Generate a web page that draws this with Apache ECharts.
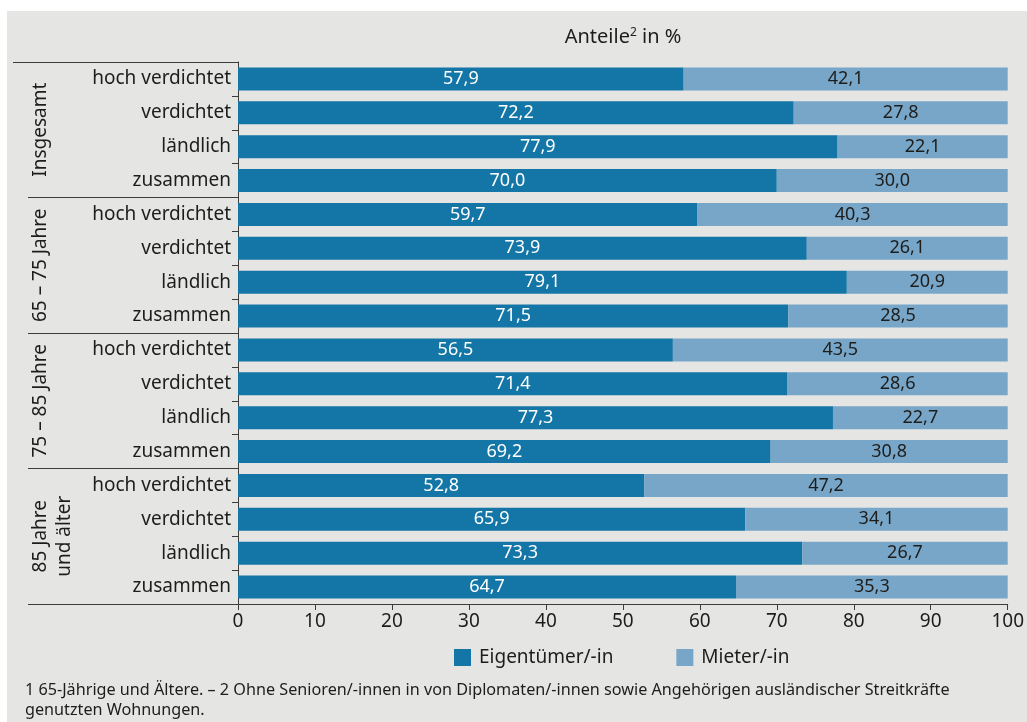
<!DOCTYPE html>
<html>
<head>
<meta charset="utf-8">
<script src="https://cdn.jsdelivr.net/npm/echarts@6/dist/echarts.min.js"></script>
<style>
  body { margin:0; background:#ffffff; }
  #main { position:absolute; left:7px; top:11px; width:1020px; height:711px; background:#e5e5e4; }
</style>
</head>
<body>
<div id="main"></div>
<script>
// Gruppen und Raumtypen
const groups = ['Insgesamt', '65 – 75 Jahre', '75 – 85 Jahre', '85 Jahre\nund älter']
const areas = ['hoch verdichtet', 'verdichtet', 'ländlich', 'zusammen']

// Anteile in %
const eigentuemer = [57.9, 72.2, 77.9, 70.0, 59.7, 73.9, 79.1, 71.5, 56.5, 71.4, 77.3, 69.2, 52.8, 65.9, 73.3, 64.7]
const mieter = [42.1, 27.8, 22.1, 30.0, 40.3, 26.1, 20.9, 28.5, 43.5, 28.6, 22.7, 30.8, 47.2, 34.1, 26.7, 35.3]

const xTicks = [0, 10, 20, 30, 40, 50, 60, 70, 80, 90, 100]

const footnote = '1 65-Jährige und Ältere. – 2 Ohne Senioren/-innen in von Diplomaten/-innen sowie Angehörigen ausländischer Streitkräfte\ngenutzten Wohnungen.'

// unique keys so the category axis keeps repeated names
const rows = []
groups.forEach((g, gi) => {
  areas.forEach(a => rows.push(gi + '|' + a))
})

const font = 'Noto Sans'
const txt = '#1d1d1b'
const lineCol = '#3c3c3b'
const fmt = v => v.toFixed(1).replace('.', ',')

const chart = echarts.init(document.getElementById('main'))

const option = {
  textStyle: { fontFamily: font },
  title: {
    text: 'Anteile{sup|2} in %',
    left: 616,
    top: 16,
    textAlign: 'center',
    padding: 0,
    textStyle: {
      fontFamily: font, fontSize: 20, fontWeight: 'normal', color: txt,
      rich: { sup: { fontSize: 12, verticalAlign: 'top', padding: [0, 0, 9, 0], color: txt, fontFamily: font } }
    }
  },
  legend: {
    left: 447,
    top: 637,
    padding: 0,
    icon: 'rect',
    itemWidth: 17,
    itemHeight: 17,
    itemGap: 63,
    textStyle: { fontFamily: font, fontSize: 19, color: txt, padding: [0, 0, 0, 3] }
  },
  grid: { left: 231, right: 19, top: 51, bottom: 118 },
  xAxis: {
    type: 'value',
    min: 0,
    max: 100,
    interval: 10,
    splitLine: { show: false },
    axisLine: { show: true, lineStyle: { color: lineCol, width: 1 } },
    axisTick: { show: true, length: 6, lineStyle: { color: lineCol } },
    axisLabel: {
      fontFamily: font, fontSize: 19, color: txt, margin: 8,
      formatter: v => xTicks.includes(v) ? String(v) : ''
    }
  },
  yAxis: [{
    type: 'category',
    inverse: true,
    data: rows,
    axisLine: { show: true, lineStyle: { color: lineCol, width: 1 } },
    axisTick: { show: true, interval: 0, length: 6, lineStyle: { color: lineCol } },
    axisLabel: {
      interval: 0, hideOverlap: false,
      fontFamily: font, fontSize: 19, color: txt, margin: 7,
      formatter: v => v.split('|')[1]
    }
  }, {
    type: 'category',
    inverse: true,
    position: 'left',
    offset: 210,
    data: groups,
    axisLine: { show: false },
    axisTick: { show: true, interval: 0, inside: true, length: 210, lineStyle: { color: lineCol, width: 1 } },
    axisLabel: {
      interval: 0, hideOverlap: false,
      inside: true, rotate: 90, margin: 1,
      fontFamily: font, fontSize: 19, color: txt, lineHeight: 24
    }
  }],
  series: [{
    name: 'Eigentümer/-in',
    type: 'bar',
    stack: 'a',
    barWidth: 23,
    data: eigentuemer,
    itemStyle: { color: '#1476a6' },
    label: { show: true, position: 'inside', color: '#ffffff', fontFamily: font, fontSize: 18, formatter: p => fmt(p.value) }
  }, {
    name: 'Mieter/-in',
    type: 'bar',
    stack: 'a',
    barWidth: 23,
    data: mieter,
    itemStyle: { color: '#78a6c8' },
    label: { show: true, position: 'inside', color: txt, fontFamily: font, fontSize: 18, formatter: p => fmt(p.value) }
  }],
  graphic: [{
    type: 'line',
    shape: { x1: 6, y1: 51.5, x2: 21, y2: 51.5 },
    style: { stroke: lineCol, lineWidth: 1 }
  }, {
    type: 'text',
    left: 18,
    top: 669,
    style: { text: footnote, fontFamily: font, fontSize: 16.2, lineHeight: 20, fill: txt }
  }]
}

chart.setOption(option)
</script>
</body>
</html>
